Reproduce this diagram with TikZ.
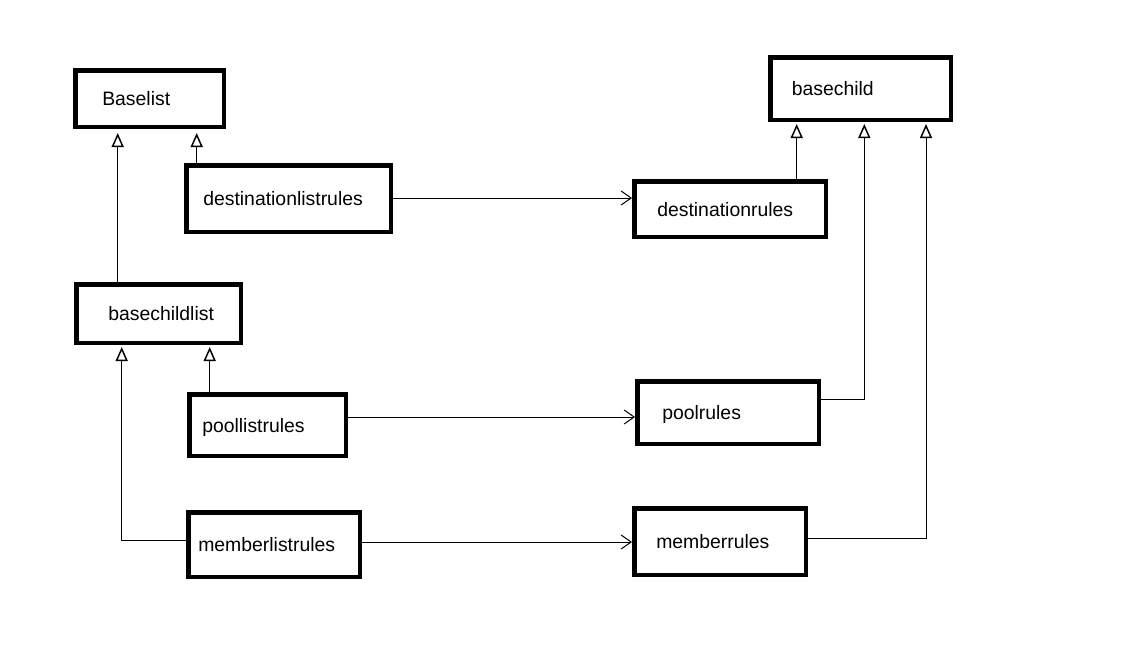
\documentclass[tikz,border=0pt]{standalone}
\usepackage{fontspec}
\setmainfont{Liberation Sans}
\usepackage{tikz}
\usetikzlibrary{arrows.meta, calc}
\hyphenpenalty=10000

\begin{document}
\begin{tikzpicture}[
    x=1pt, y=-1pt,
    cls/.style={rectangle, draw, line width=4.5pt, fill=white, align=left, inner ysep=0pt,
      text height=16pt, text depth=2pt, font=\fontsize{19.4}{23}\selectfont},
    size/.style args={#1/#2/#3/#4}{minimum width=#1pt, minimum height=#2pt, inner xsep=#3pt, text width=#4pt},
    inh/.style={-{Triangle[open, length=14pt, width=12pt, line width=1.5pt]}, line width=1pt, shorten >=2pt},
    assoc/.style={-{Straight Barb[length=10pt, width=14pt]}, line width=1pt}
  ]
  \useasboundingbox[fill=white] (0,0) rectangle (1130,665);

  % list classes on the left
  \node[cls, size={148.5/56.5/27/94.5}] (baselist) at (149.5,98.5) {Baselist};
  \node[cls, size={204.5/66.5/17/170.5}] (dlr) at (288.5,198.5) {destinationlistrules};
  \node[cls, size={164.5/58.5/32/100.5}] (bcl) at (158.5,313.5) {basechildlist};
  \node[cls, size={156.5/61.5/13/130.5}] (plr) at (267.5,425) {poollistrules};
  \node[cls, size={171.5/64.5/10/151.5}] (mlr) at (274,544.5) {memberlistrules};

  % rule classes on the right
  \node[cls, size={180.5/62.5/21.5/137.5}] (basechild) at (860.5,88.5) {basechild};
  \node[cls, size={191.5/55.5/23/145.5}] (dr) at (730,209) {destinationrules};
  \node[cls, size={181.5/62.5/25/131.5}] (pr) at (728,412.5) {poolrules};
  \node[cls, size={171.5/66.5/22/127.5}] (mr) at (720,541.5) {memberrules};

  % inheritance
  \draw[inh, shorten >=4pt] ([xshift=12.7pt]dlr.north west) -- ([xshift=12.7pt]dlr.north west |- baselist.south);
  \draw[inh, shorten >=4pt] ([xshift=43.7pt]bcl.north west) -- ([xshift=43.7pt]bcl.north west |- baselist.south);
  \draw[inh] ([xshift=22.7pt]plr.north west) -- ([xshift=22.7pt]plr.north west |- bcl.south);
  \draw[inh] ([yshift=4.5pt]mlr.west) -| ([xshift=47.7pt]bcl.south west);
  \draw[inh] ([xshift=164.7pt]dr.north west) -- ([xshift=164.7pt]dr.north west |- basechild.south);
  \draw[inh] ([yshift=13pt]pr.east) -| ([xshift=96.3pt]basechild.south west);
  \draw[inh] ([yshift=3.2pt]mr.east) -| ([xshift=158pt]basechild.south west);

  % associations
  \draw[assoc] ([yshift=0.5pt]dlr.east) -- ([yshift=0.5pt]dlr.east -| dr.west);
  \draw[assoc] ([yshift=8pt]plr.east) -- ([yshift=8pt]plr.east -| pr.west);
  \draw[assoc] ([yshift=2.5pt]mlr.east) -- ([yshift=2.5pt]mlr.east -| mr.west);
\end{tikzpicture}
\end{document}
